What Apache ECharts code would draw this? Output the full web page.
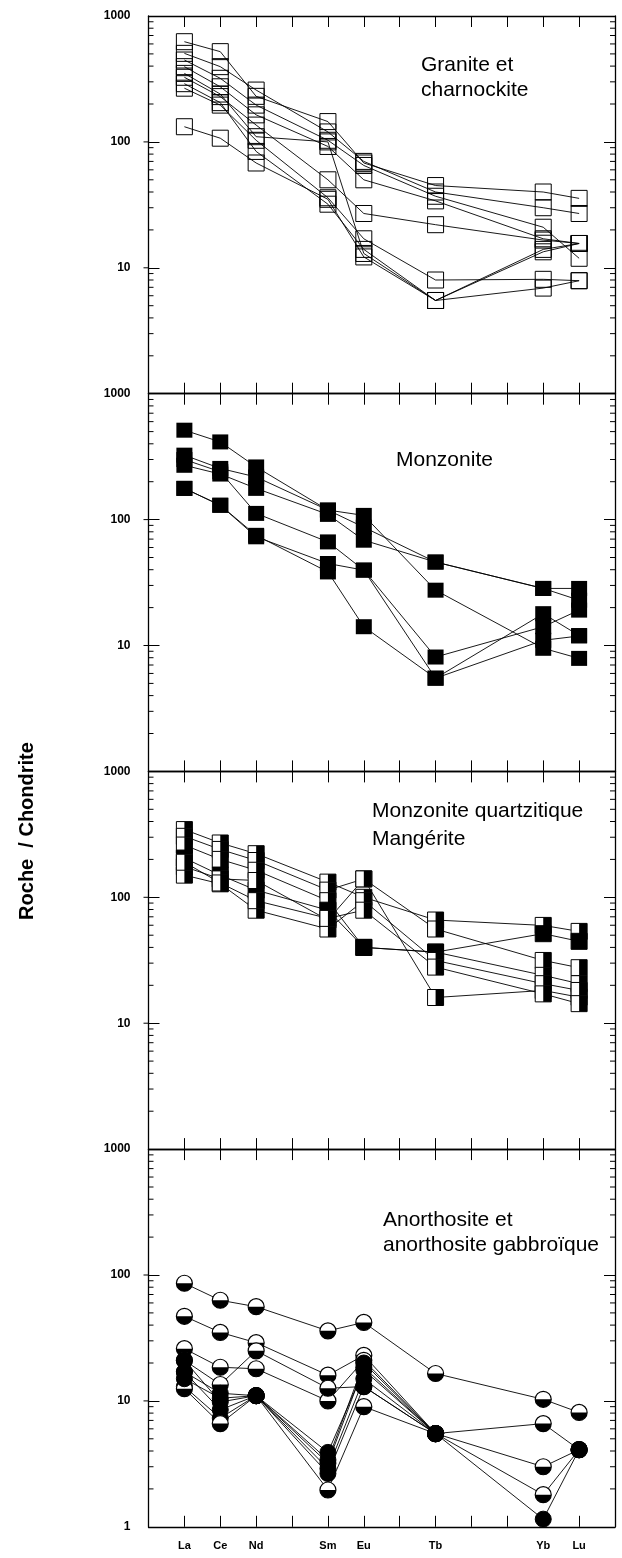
<!DOCTYPE html>
<html><head><meta charset="utf-8">
<script src="https://cdn.jsdelivr.net/npm/echarts@6/dist/echarts.min.js"></script>
<style>html,body{margin:0;padding:0;background:#fff}#c{width:622px;height:1558px}</style>
</head><body><div id="c"></div>
<script>
// ---- data ----
const elements = ['La', 'Ce', 'Nd', 'Sm', 'Eu', 'Tb', 'Yb', 'Lu'];
const elementPos = [0, 1, 2, 4, 5, 7, 10, 11];
const yMajorTicks = [1, 10, 100, 1000];
const yMinorTicks = [2, 3, 4, 5, 6, 7, 8, 9, 20, 30, 40, 50, 60, 70, 80, 90, 200, 300, 400, 500, 600, 700, 800, 900];

// Granite et charnockite (rock / chondrite)
const granite = [
  [625, 521, 230, 145, 68, 45, 40, 35.6],
  [505, 396, 258, 120, 70, 40, 30, 27],
  [447, 320, 196, 103, 65, 37, 21, 11.9],
  [396, 274, 164, 92, 50, 34, 17, 15.6],
  [326, 229, 136, 50, 27, 22, 16.6, 15.6],
  [267, 196, 103, 36, 17, 8, 8.1, 7.9],
  [290, 205, 84, 32, 14, 5.5, 14, 15.6],
  [132, 107, 68, 35, 12.2, 5.5, 6.9, 7.9],
  [350, 240, 110, 100, 13, 5.5, 13.4, 15.6]
];
// Monzonite
const monzonite = [
  [513, 414, 262, 119, 108, 27.5, 9.5, 7.9],
  [325, 255, 218, 119, 87, 46, 28.4, 28.4],
  [270, 230, 177, 110, 68.6, 46, 28.4, 22.9],
  [300, 240, 112, 66.5, 39.7, 8.1, 14.1, 19.1],
  [177, 130, 73, 44.8, 39.7, 5.5, 11, 11.9],
  [177, 130, 75, 38.4, 14.1, 5.5, 17.9, 12]
];
// Monzonite quartzitique / Mangérite
const mangerite = [
  [345, 270, 222, 132, 100, 66, 59.8, 53.6],
  [305, 240, 196, 114, 140, 56, 31.5, 27.6],
  [260, 200, 164, 94, 40, 36.7, 24, 20.6],
  [205, 150, 114, 79, 40, 36.7, 51.4, 44.7],
  [175, 140, 136, 66, 140, 16, 18.2, 16.1],
  [150, 128, 79, 56, 94, 31.5, 20.6, 18.2],
  [190, 130, 94, 68, 79, 27.9, 17.1, 14.3]
];
const mangeriteSolid = [0, 0, 0, 1, 0, 0, 0];
// Anorthosite et anorthosite gabbroïque
const anorthosite = [
  [86, 63, 56, 36, 42, 16.5, 10.3, 8.1],
  [47, 35, 29, 16, 23, 5.5, 6.6, 4.1],
  [26, 18.5, 18, 10, 21, 5.5, 3.0, 4.1],
  [21, 13.5, 25, 12.6, 13, 5.5, 1.8, 4.1],
  [17, 11.5, 11, 3.9, 17.6, 5.5, 1.15, 4.1],
  [21, 9.8, 11, 3.4, 20, 5.5, null, null],
  [17, 8.5, 11, 2.9, 15, 5.5, null, null],
  [13, 7.3, 11, 2.65, 13, 5.5, null, null],
  [12.5, 6.6, 11, 1.96, 9, 5.5, null, null],
  [15, 10.5, 11, 3.2, 18.5, 5.5, null, null]
];
const anorthositeSolid = [0, 0, 0, 0, 1, 1, 1, 1, 0, 1];

// ---- layout / style ----
const FONT = '"Liberation Sans", Arial, Helvetica, sans-serif';
const G_LEFT = 148.5, G_RIGHT = 7, G_TOP = 16, G_H = 377.7;
const panels = [
  { rows: granite, solid: null, marker: 'open', title: 'Granite et\ncharnockite', tl: [421, 52.5], lh: 25 },
  { rows: monzonite, solid: null, marker: 'filled', title: 'Monzonite', tl: [396, 447.5], lh: 25 },
  { rows: mangerite, solid: mangeriteSolid, marker: 'halfSquare', title: 'Monzonite quartzitique\nMangérite', tl: [372, 797.5], lh: 28 },
  { rows: anorthosite, solid: anorthositeSolid, marker: 'halfCircle', title: 'Anorthosite et\nanorthosite gabbroïque', tl: [383, 1208], lh: 24.5 }
];

function pts(row) {
  const out = [];
  row.forEach((v, i) => { if (v != null) out.push([elementPos[i], v]); });
  return out;
}

const grid = [], xAxis = [], yAxis = [], series = [], title = [];
const axisLineStyle = { color: '#000', width: 1.3 };
const tickStyle = { color: '#000', width: 1 };
const BLACK = { color: '#000', opacity: 1 };

panels.forEach((P, p) => {
  grid.push({ left: G_LEFT, right: G_RIGHT, top: G_TOP + p * G_H, height: G_H, outerBoundsMode: 'none' });
  const xBase = {
    gridIndex: p, type: 'value', min: -1, max: 12, interval: 1,
    axisLine: { show: true, onZero: false, lineStyle: axisLineStyle },
    axisTick: { show: true, inside: true, length: 11, lineStyle: tickStyle },
    splitLine: { show: false }
  };
  xAxis.push(Object.assign({}, xBase, {
    position: 'bottom',
    axisLabel: {
      show: p === panels.length - 1, margin: 14, color: '#000', fontSize: 11, fontWeight: 'bold', fontFamily: FONT,
      formatter: v => { const i = elementPos.indexOf(Math.round(v)); return i >= 0 ? elements[i] : ''; }
    }
  }));
  xAxis.push(Object.assign({}, xBase, { position: 'top', axisLabel: { show: false } }));
  const yBase = {
    gridIndex: p, type: 'log', logBase: 10, min: 1, max: 1000,
    axisLine: { show: true, onZero: false, lineStyle: axisLineStyle },
    axisTick: { show: true, inside: true, length: 11, lineStyle: tickStyle },
    minorTick: { show: false },
    splitLine: { show: false }
  };
  yAxis.push(Object.assign({}, yBase, {
    position: 'left',
    axisLabel: {
      show: true, margin: 18, color: '#000', fontSize: 12, fontWeight: 'bold', fontFamily: FONT,
      showMinLabel: true, showMaxLabel: true,
      formatter: v => { const r = Math.round(v); return (r === 1 && p < panels.length - 1) ? '' : String(r); }
    }
  }));
  yAxis.push(Object.assign({}, yBase, { position: 'right', axisLabel: { show: false } }));

  const ax = { xAxisIndex: 2 * p, yAxisIndex: 2 * p };
  const tickCommon = Object.assign({ type: 'scatter', symbol: 'rect', silent: true, clip: false, z: 6, itemStyle: BLACK }, ax);
  series.push(Object.assign({}, tickCommon, { data: yMinorTicks.map(v => [-1, v]), symbolSize: [5, 1], symbolOffset: [2.5, 0] }));
  series.push(Object.assign({}, tickCommon, { data: yMinorTicks.map(v => [12, v]), symbolSize: [5, 1], symbolOffset: [-2.5, 0] }));
  series.push(Object.assign({}, tickCommon, { data: yMajorTicks.slice(1, 3).map(v => [-1, v]), symbolSize: [5, 1], symbolOffset: [-2.5, 0] }));

  P.rows.forEach(row => {
    series.push(Object.assign({
      type: 'line', data: pts(row), symbol: 'none', showSymbol: false, silent: true, z: 2,
      lineStyle: { color: '#000', width: 0.9, opacity: 1 }
    }, ax));
  });

  P.rows.forEach((row, s) => {
    const d = pts(row);
    const solid = P.solid ? P.solid[s] : 0;
    const sc = Object.assign({ type: 'scatter', data: d, silent: true, clip: false, z: 3 }, ax);
    if (P.marker === 'open') {
      series.push(Object.assign({}, sc, { symbol: 'rect', symbolSize: 16, itemStyle: { color: 'rgba(0,0,0,0)', borderColor: '#000', borderWidth: 1, opacity: 1 } }));
    } else if (P.marker === 'filled') {
      series.push(Object.assign({}, sc, { symbol: 'rect', symbolSize: [16, 15], itemStyle: BLACK }));
    } else if (P.marker === 'halfSquare') {
      if (solid) {
        series.push(Object.assign({}, sc, { symbol: 'rect', symbolSize: 16, itemStyle: { color: '#000', borderColor: '#000', borderWidth: 1, opacity: 1 } }));
      } else {
        series.push(Object.assign({}, sc, { symbol: 'rect', symbolSize: 16, itemStyle: { color: '#fff', borderColor: '#000', borderWidth: 1, opacity: 1 } }));
        series.push(Object.assign({}, sc, { symbol: 'rect', symbolSize: [8, 16], symbolOffset: [4, 0], itemStyle: BLACK }));
      }
    } else if (P.marker === 'halfCircle') {
      if (solid) {
        series.push(Object.assign({}, sc, { symbol: 'circle', symbolSize: 16, itemStyle: { color: '#000', borderColor: '#000', borderWidth: 1, opacity: 1 } }));
      } else {
        series.push(Object.assign({}, sc, { symbol: 'circle', symbolSize: 16, itemStyle: { color: '#fff', borderColor: '#000', borderWidth: 1.2, opacity: 1 } }));
        series.push(Object.assign({}, sc, { symbol: 'path://M0,0 A1,1 0 0 0 2,0 Z', symbolSize: [16, 8], symbolOffset: [0, 4], itemStyle: BLACK }));
      }
    }
  });

  title.push({
    text: P.title, left: P.tl[0], top: P.tl[1], padding: 0,
    textStyle: { fontFamily: FONT, fontSize: 21, fontWeight: 'normal', color: '#000', lineHeight: P.lh }
  });
});

const chart = echarts.init(document.getElementById('c'), null, { renderer: 'canvas' });
chart.setOption({
  animation: false,
  backgroundColor: '#fff',
  title: title,
  grid: grid,
  xAxis: xAxis,
  yAxis: yAxis,
  series: series,
  graphic: [{
    type: 'text', x: 27, y: 831, rotation: Math.PI / 2,
    style: { text: 'Roche  / Chondrite', fontFamily: FONT, fontSize: 20, fontWeight: 'bold', fill: '#000', textAlign: 'center', textVerticalAlign: 'middle' }
  }]
});
</script>
</body></html>
